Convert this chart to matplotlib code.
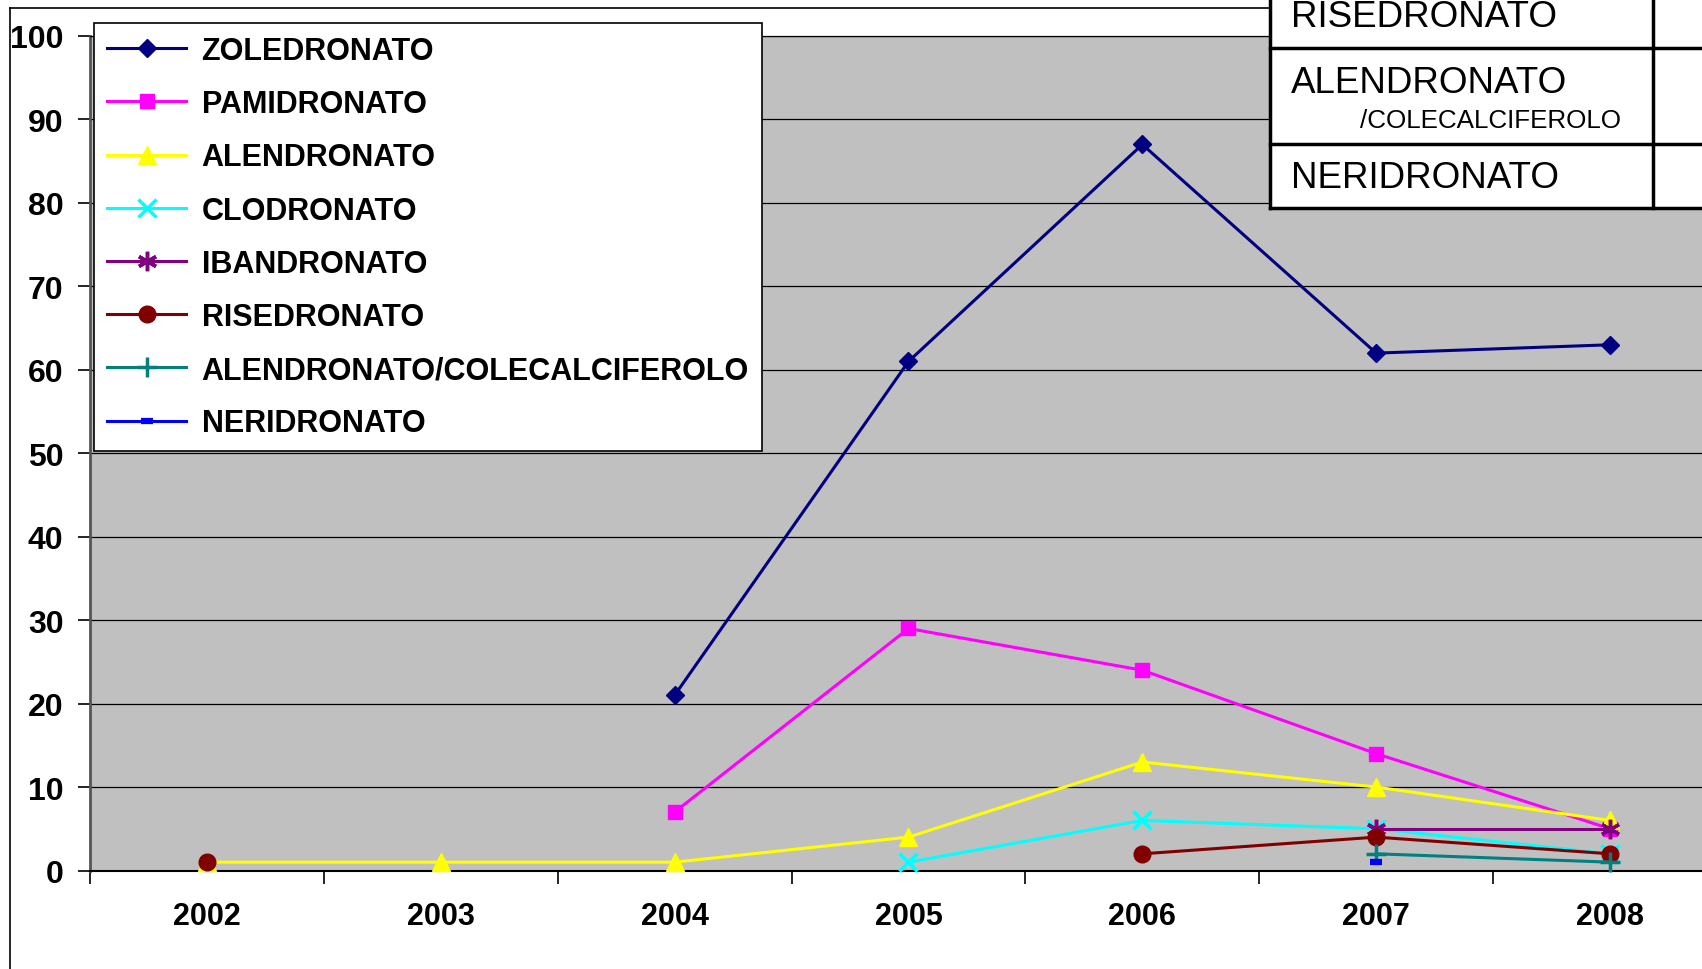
import numpy as np
import matplotlib.pyplot as plt
from matplotlib.lines import Line2D
from matplotlib.patches import Rectangle

W, H = 1702, 970
nan = np.nan

years = ['2002', '2003', '2004', '2005', '2006', '2007', '2008']

zoledronato = [nan, nan, 21, 61, 87, 62, 63]
pamidronato = [nan, nan, 7, 29, 24, 14, 5]
alendronato = [1, 1, 1, 4, 13, 10, 6]
clodronato = [nan, nan, nan, 1, 6, 5, 2]
ibandronato = [nan, nan, nan, nan, nan, 5, 5]
risedronato = [1, nan, nan, nan, 2, 4, 2]
alend_colecalc = [nan, nan, nan, nan, nan, 2, 1]
neridronato = [nan, nan, nan, nan, nan, 1, nan]

yticks = list(range(0, 101, 10))
table_labels = ['RISEDRONATO', 'ALENDRONATO', '/COLECALCIFEROLO', 'NERIDRONATO']

# label, values, colour, marker, size, edge width
series = [
    ('ZOLEDRONATO', zoledronato, '#000080', 'D', 9.5, 1),
    ('PAMIDRONATO', pamidronato, '#FF00FF', 's', 10.5, 1),
    ('ALENDRONATO', alendronato, '#FFFF00', '^', 13, 1),
    ('CLODRONATO', clodronato, '#00FFFF', 'x', 13, 2.5),
    ('IBANDRONATO', ibandronato, '#800080', (6, 2, 0), 14, 2.5),
    ('RISEDRONATO', risedronato, '#800000', 'o', 12, 1),
    ('ALENDRONATO/COLECALCIFEROLO', alend_colecalc, '#008080', '+', 15, 2.5),
    ('NERIDRONATO', neridronato, '#0000FF', '_', 8, 4.5),
]


def fx(x):
    return x / W


def fy(y):
    return 1 - y / H


fig = plt.figure(figsize=(W / 100, H / 100), dpi=100)
fig.patch.set_facecolor('white')
ax = fig.add_axes([fx(90), fy(871.5), (1727 - 90) / W, (871.5 - 37) / H])
ax.set_facecolor('#C0C0C0')

x = np.arange(len(years))
for label, vals, col, mk, ms, mew in series:
    ax.plot(x, vals, color=col, lw=2.2, marker=mk, markersize=ms,
            markerfacecolor=col, markeredgecolor=col, markeredgewidth=mew,
            label=label, clip_on=False, zorder=3)

ax.set_xlim(-0.5, 6.5)
ax.set_ylim(0, 100)
ax.set_yticks(yticks)
ax.set_yticklabels([str(v) for v in yticks], fontsize=23, fontweight='heavy',
                   family='Liberation Sans')
ax.set_xticks(x)
ax.set_xticklabels(years, fontsize=22, fontweight='heavy', family='Liberation Sans')
ax.set_xticks(np.arange(-0.5, 7, 1), minor=True)
ax.tick_params(axis='x', which='major', length=0, pad=22)
ax.tick_params(axis='x', which='minor', length=9, width=1.2, direction='out')
ax.tick_params(axis='y', length=9, width=1.2, pad=10)

ax.yaxis.grid(True, color='black', lw=0.9)
ax.set_axisbelow(True)
ax.spines['right'].set_visible(False)
ax.spines['top'].set_linewidth(0.9)
ax.spines['left'].set_color('#555555')
ax.spines['left'].set_linewidth(2)
ax.spines['bottom'].set_linewidth(1.5)

leg = ax.legend(loc='upper left', bbox_to_anchor=(fx(94), fy(24)),
                bbox_transform=fig.transFigure, borderaxespad=0,
                fancybox=False, edgecolor='black', framealpha=1,
                prop=dict(family='Liberation Sans', weight='bold', size=22),
                handlelength=2.6, handletextpad=0.5, labelspacing=0.76,
                borderpad=0.42, numpoints=1)
leg.get_frame().set_linewidth(1.2)
leg.set_zorder(5)

# chart area border (left and top)
fig.add_artist(Line2D([fx(10), fx(10)], [fy(9), 0], color='black', lw=1.2))
fig.add_artist(Line2D([fx(10), fx(1270)], [fy(9), fy(9)], color='black', lw=1.2))

# table overlapping the top right corner
fig.add_artist(Rectangle((fx(1270), fy(209)), (W - 1270) / W, 209 / H,
                         facecolor='white', edgecolor='none', zorder=10))
lw_t = 2.5
fig.add_artist(Line2D([fx(1270), fx(1270)], [1, fy(209)], color='black', lw=lw_t, zorder=11))
fig.add_artist(Line2D([fx(1653), fx(1653)], [1, fy(209)], color='black', lw=lw_t, zorder=11))
for yy in [49, 145, 209]:
    fig.add_artist(Line2D([fx(1270), 1], [fy(yy), fy(yy)], color='black', lw=lw_t, zorder=11))

tkw = dict(family='Liberation Sans', va='baseline', ha='left', zorder=12)
fig.text(fx(1291), fy(27), table_labels[0], fontsize=26.5, **tkw)
fig.text(fx(1291), fy(93), table_labels[1], fontsize=26.5, **tkw)
fig.text(fx(1360), fy(128), table_labels[2], fontsize=18.7, **tkw)
fig.text(fx(1291), fy(188), table_labels[3], fontsize=26.5, **tkw)

fig.savefig('out.png', dpi=100)
